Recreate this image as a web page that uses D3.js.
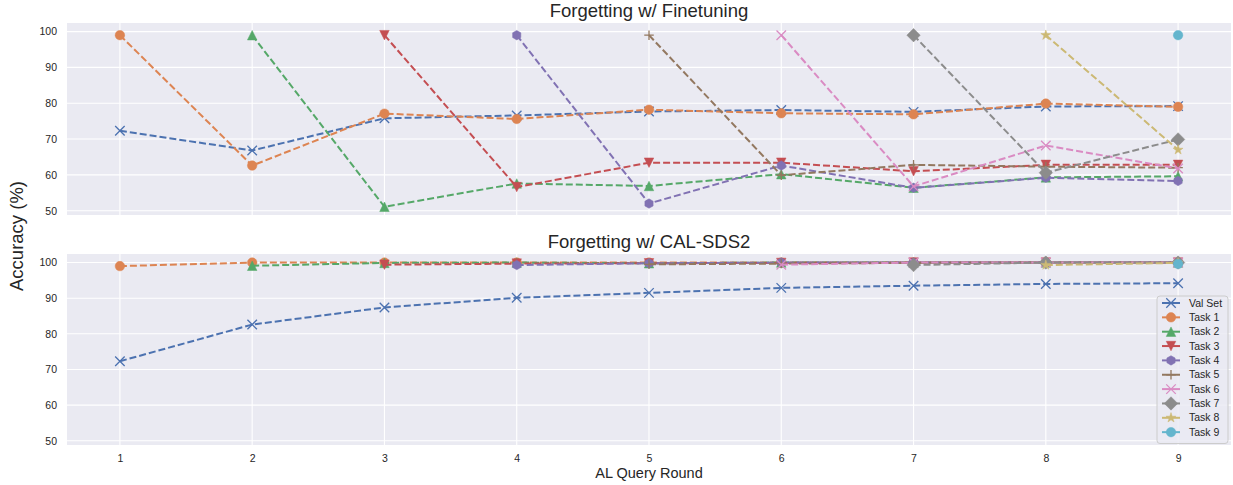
<!DOCTYPE html>
<html>
<head>
<meta charset="utf-8">
<script src="https://cdn.jsdelivr.net/npm/d3@7"></script>
<style>
  body { margin: 0; background: #fff; }
  svg { display: block; font-family: "Liberation Sans", Arial, Helvetica, sans-serif; }
</style>
</head>
<body>
<svg id="chart" width="1233" height="485"></svg>
<script>
// ---------- data ----------
const rounds = [1, 2, 3, 4, 5, 6, 7, 8, 9];
const seriesNames = ["Val Set", "Task 1", "Task 2", "Task 3", "Task 4", "Task 5", "Task 6", "Task 7", "Task 8", "Task 9"];
const seriesColors = ["#4C72B0", "#DD8452", "#55A868", "#C44E52", "#8172B3", "#937860", "#DA8BC3", "#8C8C8C", "#CCB974", "#64B5CD"];
const seriesMarkers = ["x", "o", "^", "v", "h", "+", "x", "D", "*", "o"];
const yTicks = [50, 60, 70, 80, 90, 100];
const titles = ["Forgetting w/ Finetuning", "Forgetting w/ CAL-SDS2"];

// Finetuning panel (null = task not yet introduced)
const ftVal   = [72.3, 66.8, 75.8, 76.6, 77.7, 78.1, 77.6, 79.1, 79.2];
const ftTask1 = [99.0, 62.6, 77.1, 75.6, 78.2, 77.2, 76.9, 79.9, 79.0];
const ftTask2 = [null, 99.0, 51.1, 57.6, 56.9, 60.2, 56.4, 59.3, 59.6];
const ftTask3 = [null, null, 99.0, 56.6, 63.4, 63.4, 61.0, 62.8, 62.8];
const ftTask4 = [null, null, null, 99.0, 52.0, 62.6, 56.4, 59.2, 58.3];
const ftTask5 = [null, null, null, null, 99.0, 59.9, 62.8, 62.3, 62.0];
const ftTask6 = [null, null, null, null, null, 99.0, 56.8, 68.2, 61.8];
const ftTask7 = [null, null, null, null, null, null, 99.0, 60.6, 69.9];
const ftTask8 = [null, null, null, null, null, null, null, 99.0, 67.0];
const ftTask9 = [null, null, null, null, null, null, null, null, 99.0];

// CAL-SDS2 panel
const calVal   = [72.3, 82.6, 87.4, 90.1, 91.5, 92.9, 93.5, 94.0, 94.2];
const calTask1 = [99.0, 100.0, 100.0, 100.0, 100.0, 100.0, 100.0, 100.0, 100.0];
const calTask2 = [null, 99.1, 99.9, 100.0, 99.8, 100.0, 100.0, 100.0, 100.0];
const calTask3 = [null, null, 99.4, 99.7, 99.8, 99.9, 100.0, 100.0, 100.0];
const calTask4 = [null, null, null, 99.3, 99.8, 100.0, 100.0, 100.0, 100.0];
const calTask5 = [null, null, null, null, 99.5, 99.7, 99.9, 100.0, 100.0];
const calTask6 = [null, null, null, null, null, 99.4, 100.0, 100.0, 100.0];
const calTask7 = [null, null, null, null, null, null, 99.3, 100.0, 100.0];
const calTask8 = [null, null, null, null, null, null, null, 99.3, 99.9];
const calTask9 = [null, null, null, null, null, null, null, null, 99.6];

const panels = [
  [ftVal, ftTask1, ftTask2, ftTask3, ftTask4, ftTask5, ftTask6, ftTask7, ftTask8, ftTask9],
  [calVal, calTask1, calTask2, calTask3, calTask4, calTask5, calTask6, calTask7, calTask8, calTask9]
];

// ---------- layout ----------
const svg = d3.select("#chart");
const left = 67, right = 1231;
const panelBoxes = [{ top: 23, bottom: 215 }, { top: 254, bottom: 445 }];
const x = d3.scaleLinear().domain([0.6, 9.4]).range([left, right]);
const textColor = "#262626";

function markerPath(type, s) {
  const r = s / 2;
  switch (type) {
    case "o": return d3.symbol(d3.symbolCircle, Math.PI * r * r)();
    case "^": return `M0,${-r}L${r},${r}L${-r},${r}Z`;
    case "v": return `M0,${r}L${r},${-r}L${-r},${-r}Z`;
    case "D": { const d = s * 0.707; return `M0,${-d}L${d},0L0,${d}L${-d},0Z`; }
    case "h": {
      let p = "";
      for (let i = 0; i < 6; i++) {
        const a = Math.PI / 2 + i * Math.PI / 3;
        p += (i ? "L" : "M") + (r * Math.cos(a)).toFixed(2) + "," + (-r * Math.sin(a)).toFixed(2);
      }
      return p + "Z";
    }
    case "*": {
      let p = "";
      for (let i = 0; i < 10; i++) {
        const a = Math.PI / 2 + i * Math.PI / 5;
        const rr = i % 2 === 0 ? r * 1.1 : r * 1.1 * 0.382;
        p += (i ? "L" : "M") + (rr * Math.cos(a)).toFixed(2) + "," + (-rr * Math.sin(a)).toFixed(2);
      }
      return p + "Z";
    }
    case "x": return `M${-r},${-r}L${r},${r}M${-r},${r}L${r},${-r}`;
    case "+": return `M${-r},0L${r},0M0,${-r}L0,${r}`;
  }
}
function drawMarker(g, type, color, cx, cy) {
  const stroked = type === "x" || type === "+";
  g.append("path")
    .attr("d", markerPath(type, 9.5))
    .attr("transform", `translate(${cx},${cy})`)
    .attr("fill", stroked ? "none" : color)
    .attr("stroke", color)
    .attr("stroke-width", stroked ? 1.3 : 0.5);
}

panels.forEach((series, pi) => {
  const box = panelBoxes[pi];
  const y = d3.scaleLinear().domain([48.8, 102.4]).range([box.bottom, box.top]);
  const g = svg.append("g");

  g.append("rect").attr("x", left).attr("y", box.top)
    .attr("width", right - left).attr("height", box.bottom - box.top)
    .attr("fill", "#EAEAF2");

  // grid
  g.selectAll(".gy").data(yTicks).enter().append("line")
    .attr("x1", left).attr("x2", right)
    .attr("y1", d => y(d)).attr("y2", d => y(d))
    .attr("stroke", "#fff").attr("stroke-width", 1.1);
  g.selectAll(".gx").data(rounds).enter().append("line")
    .attr("y1", box.top).attr("y2", box.bottom)
    .attr("x1", d => x(d)).attr("x2", d => x(d))
    .attr("stroke", "#fff").attr("stroke-width", 1.1);

  // y axis labels
  const yAxis = d3.axisLeft(y).tickValues(yTicks).tickSize(0).tickPadding(10);
  const ya = g.append("g").attr("transform", `translate(${left},0)`).call(yAxis);
  ya.select(".domain").remove();
  ya.selectAll("text").attr("fill", textColor).attr("font-size", 10.5)
    .attr("font-family", "Liberation Sans, Arial, sans-serif");

  if (pi === 1) {
    const xAxis = d3.axisBottom(x).tickValues(rounds).tickSize(0).tickPadding(10);
    const xa = g.append("g").attr("transform", `translate(0,${box.bottom})`).call(xAxis);
    xa.select(".domain").remove();
    xa.selectAll("text").attr("fill", textColor).attr("font-size", 10.5)
      .attr("font-family", "Liberation Sans, Arial, sans-serif");
  }

  // title
  g.append("text").attr("x", (left + right) / 2).attr("y", box.top - 6)
    .attr("text-anchor", "middle").attr("font-size", 18.5).attr("fill", textColor)
    .text(titles[pi]);

  // series
  const line = d3.line().defined(d => d.v !== null).x(d => x(d.r)).y(d => y(d.v));
  series.forEach((vals, si) => {
    const pts = rounds.map((r, i) => ({ r, v: vals[i] }));
    const sg = g.append("g");
    sg.append("path").datum(pts).attr("d", line)
      .attr("fill", "none").attr("stroke", seriesColors[si])
      .attr("stroke-width", 2).attr("stroke-dasharray", "7,3");
    pts.filter(d => d.v !== null).forEach(d => drawMarker(sg, seriesMarkers[si], seriesColors[si], x(d.r), y(d.v)));
  });

  if (pi === 1) {
    // legend
    const lg = svg.append("g");
    const lx = 1157, ly = 296, lw = 71, rowH = 14.35;
    lg.append("rect").attr("x", lx).attr("y", ly).attr("width", lw).attr("height", rowH * 10 + 4)
      .attr("rx", 3).attr("fill", "#EAEAF2").attr("fill-opacity", 0.8)
      .attr("stroke", "#cccccc").attr("stroke-width", 1);
    seriesNames.forEach((name, si) => {
      const cy = ly + 7 + si * rowH;
      lg.append("line").attr("x1", lx + 5).attr("x2", lx + 23).attr("y1", cy).attr("y2", cy)
        .attr("stroke", seriesColors[si]).attr("stroke-width", 2);
      drawMarker(lg, seriesMarkers[si], seriesColors[si], lx + 14, cy);
      lg.append("text").attr("x", lx + 32).attr("y", cy).attr("dy", "0.35em")
        .attr("font-size", 10.5).attr("fill", textColor).text(name);
    });
  }
});

// axis labels
svg.append("text").attr("x", (left + right) / 2).attr("y", 478)
  .attr("text-anchor", "middle").attr("font-size", 14.5).attr("fill", textColor)
  .text("AL Query Round");
svg.append("text").attr("transform", "translate(23,236) rotate(-90)")
  .attr("text-anchor", "middle").attr("font-size", 18.5).attr("fill", textColor)
  .text("Accuracy (%)");
</script>
</body>
</html>
